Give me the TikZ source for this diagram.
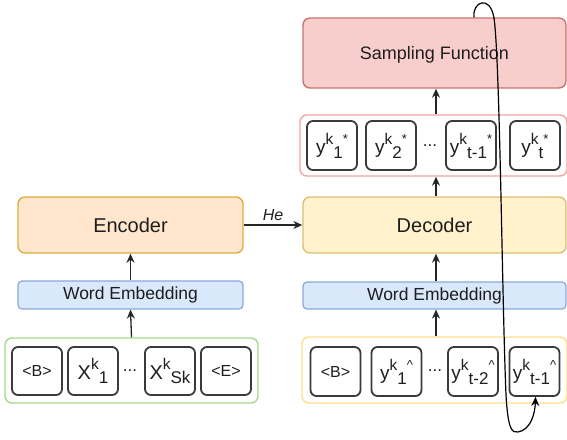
\documentclass[tikz,border=0pt]{standalone}
\usepackage{fontspec}
\setmainfont{Liberation Sans}
\usetikzlibrary{arrows.meta}
\definecolor{encfill}{HTML}{FFE6CC}
\definecolor{encline}{HTML}{DDAE40}
\definecolor{decfill}{HTML}{FFF2CC}
\definecolor{decline}{HTML}{DCC070}
\definecolor{wefill}{HTML}{DAE8FC}
\definecolor{weline}{HTML}{8AA8D8}
\definecolor{sampfill}{HTML}{F8CECC}
\definecolor{sampline}{HTML}{C87472}
\definecolor{greenline}{HTML}{A6DA8A}
\definecolor{yellowline}{HTML}{FFE08A}
\definecolor{redline}{HTML}{F5A3A3}
\definecolor{tokline}{HTML}{3A3A3A}
\definecolor{txt}{HTML}{1E1E1E}
\newcommand\tkup[1]{\raisebox{9.5pt}{\fontsize{15.5}{15.5}\selectfont #1}}
\newcommand\tkdn[1]{\raisebox{-4.5pt}{\fontsize{17}{17}\selectfont #1}}
\newcommand\tkst[1]{\raisebox{10pt}{\fontsize{13}{13}\selectfont #1}}
\tikzset{
  blk/.style={rectangle, rounded corners=7pt, line width=1.4pt, inner sep=0pt, text=txt},
  encbox/.style={blk, fill=encfill, draw=encline, font=\fontsize{20}{20}\selectfont},
  decbox/.style={blk, fill=decfill, draw=decline, font=\fontsize{20}{20}\selectfont},
  webox/.style={blk, rounded corners=4pt, line width=1.2pt, fill=wefill, draw=weline, font=\fontsize{17.5}{17.5}\selectfont},
  sampbox/.style={blk, fill=sampfill, draw=sampline, text depth=0pt, font=\fontsize{18}{18}\selectfont},
  cont/.style={rectangle, rounded corners=7pt, line width=1.4pt, fill=white, inner sep=0pt},
  tok/.style={rectangle, rounded corners=6pt, line width=1.8pt, draw=tokline, fill=white, inner sep=0pt, text=txt, minimum width=50pt, minimum height=48pt},
  smalltok/.style={font=\fontsize{16}{16}\selectfont},
  bigtok/.style={font=\fontsize{20}{20}\selectfont},
  ytok/.style={font=\fontsize{19}{19}\selectfont},
  dots/.style={inner sep=0pt, text=txt, font=\fontsize{17}{17}\selectfont, anchor=base},
  arr/.style={line width=1.3pt, draw=black!85, -{Stealth[length=9pt,width=8pt]}},
}
\begin{document}
\begin{tikzpicture}[x=1pt,y=-1pt]
\useasboundingbox (0,0) rectangle (567,439);
% ---------------- left (encoder) side
\node[encbox, minimum width=225pt, minimum height=56pt] (enc) at (130.5,225) {Encoder};
\node[webox, minimum width=225pt, minimum height=28pt] (weL) at (130.5,295) {Word Embedding};
\node[cont, draw=greenline, minimum width=253pt, minimum height=65pt] (gc) at (131.5,370.5) {};
\node[tok, smalltok] (bL) at (37,371) {<B>};
\node[tok, bigtok] (x1) at (93,371) {X\tkup{k}\tkdn{1}};
\node[dots] (dL) at (130,371) {...};
\node[tok, bigtok] (xs) at (170,371) {X\tkup{k}\tkdn{Sk}};
\node[tok, smalltok] (eL) at (226,371) {<E>};
\draw[arr] (gc.north) -- (weL.south);
\draw[arr] (weL.north) -- (enc.south);
% ---------------- right (decoder) side
\node[sampbox, minimum width=263pt, minimum height=70pt] (samp) at (434.5,53) {Sampling Function};
\node[cont, draw=redline, minimum width=267pt, minimum height=61pt] (rc) at (433.5,145.5) {};
\node[tok, ytok, minimum height=49pt] (ys1) at (332,145.5) {y\tkup{k}\tkdn{1}\tkst{*}};
\node[tok, ytok, minimum height=49pt] (ys2) at (391,145.5) {y\tkup{k}\tkdn{2}\tkst{*}};
\node[dots] (dR1) at (430,146) {...};
\node[tok, ytok, minimum height=49pt] (ysm) at (471,145.5) {y\tkup{k}\tkdn{t-1}\tkst{*}};
\node[tok, ytok, minimum height=49pt] (yst) at (535,145.5) {y\tkup{k}\tkdn{t}\tkst{*}};
\node[decbox, minimum width=263pt, minimum height=56pt] (dec) at (434.5,225) {Decoder};
\node[webox, minimum width=263pt, minimum height=27pt] (weR) at (434.5,295.5) {Word Embedding};
\node[cont, draw=yellowline, minimum width=265pt, minimum height=66pt] (yc) at (434.5,370) {};
\node[tok, smalltok, minimum height=49pt] (bR) at (335.5,371.5) {<B>};
\node[tok, ytok, minimum height=49pt] (yh1) at (396.5,371.5) {y\tkup{k}\tkdn{1}\tkst{\textasciicircum}};
\node[dots] (dR2) at (435,371) {...};
\node[tok, ytok, minimum height=49pt] (yh2) at (473,371.5) {y\tkup{k}\tkdn{t-2}\tkst{\textasciicircum}};
\node[tok, ytok, minimum height=49pt] (yh3) at (534.5,371.5) {y\tkup{k}\tkdn{t-1}\tkst{\textasciicircum}};
\draw[arr] ([xshift=1.5pt]yc.north) -- ([xshift=1.5pt]weR.south);
\draw[arr] ([xshift=1.5pt]weR.north) -- ([xshift=1.5pt]dec.south);
\draw[arr] ([xshift=1.5pt]dec.north) -- ([xshift=2.5pt]rc.south);
\draw[arr] ([xshift=2.5pt]rc.north) -- ([xshift=1.5pt]samp.south);
% ---------------- He connector
\draw[arr] (enc.east) -- node[above=4pt, inner sep=0pt, text=txt, font=\fontsize{16}{16}\selectfont\itshape] (he) {He} (dec.west);
% ---------------- feedback curve
\draw[line width=1.2pt, black, -{Stealth[length=9pt,width=8pt]}]
  ([xshift=39.5pt]samp.north) .. controls (472,2) and (490,-6) .. (494,18)
  .. controls (500,60) and (502,300) .. (506,395)
  .. controls (508,430) and (512,433) .. (518,432)
  .. controls (530,430) and (535,415) .. ([xshift=1pt]yh3.south);
\end{tikzpicture}
\end{document}
